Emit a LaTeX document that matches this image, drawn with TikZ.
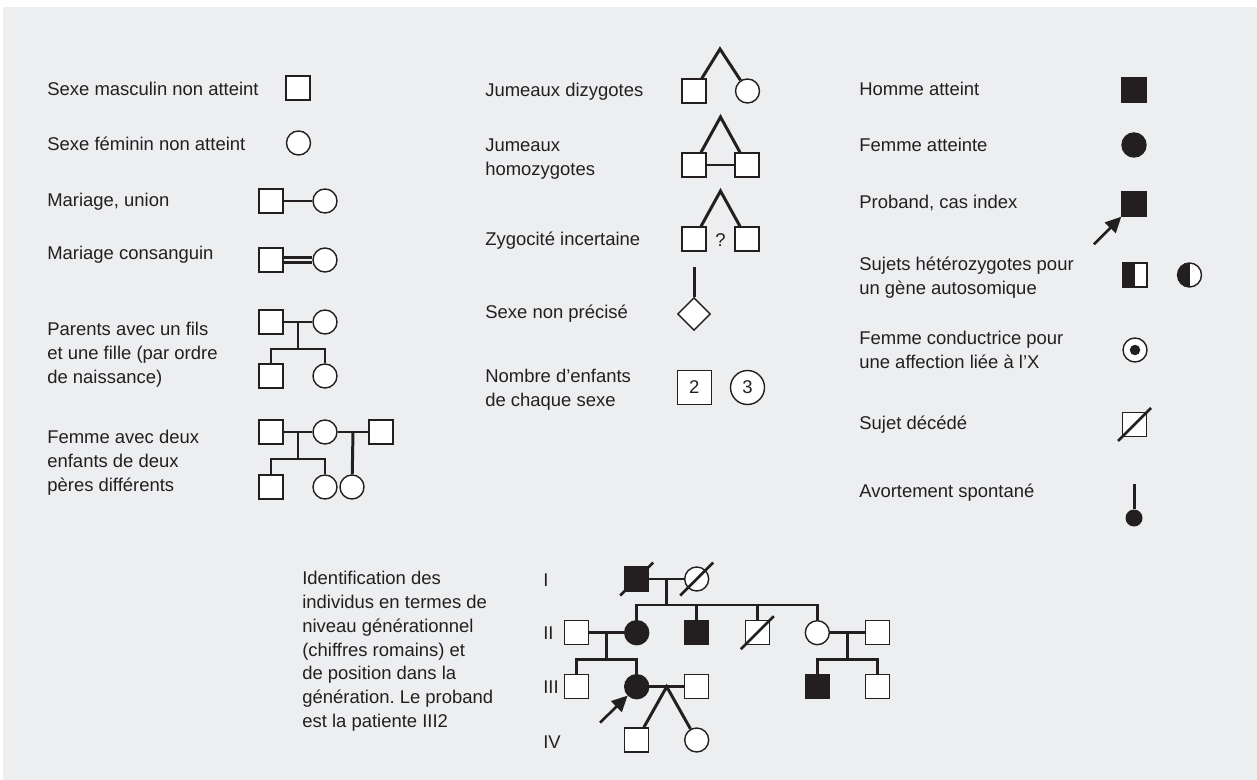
\documentclass[tikz,border=0pt]{standalone}
\usepackage{fontspec}
\setmainfont{Liberation Sans}
\usetikzlibrary{arrows.meta,shapes.geometric,calc,backgrounds}
\definecolor{ink}{HTML}{231F20}
\definecolor{panel}{HTML}{EDEEF0}
\frenchspacing

\begin{document}
\begin{tikzpicture}[x=0.02cm, y=-0.02cm]
	  \tikzstyle{lbl} = [anchor=north west, align=left, inner sep=0pt, text=ink, font=\fontsize{10.5}{13.6}\selectfont]
	  \tikzstyle{sq} = [rectangle, draw=ink, line width=0.8pt, fill=white, inner sep=0pt, minimum size=0.48cm, text=ink, font=\fontsize{10.5}{13.6}\selectfont]
	  \tikzstyle{ci} = [sq, circle]
	  \tikzstyle{hit} = [fill=ink]
	  \tikzstyle{half} = [path picture={\fill[ink] (path picture bounding box.north west) rectangle (path picture bounding box.south);}]
	  \tikzstyle{link} = [draw=ink, line width=1.7pt]
	  \tikzstyle{point} = [draw=ink, line width=1.5pt, -{Triangle[length=9pt,width=8.5pt]}]
	  \useasboundingbox (0,0) rectangle (1257,780);
	  \fill[panel] (3,7) rectangle (1257,780);
	  % left column
	  \node[lbl] (t1) at (47,81.6) {Sexe masculin non atteint};
	  \node[lbl] (t2) at (47,136.6) {Sexe féminin non atteint};
	  \node[lbl] (t3) at (47,192.6) {Mariage, union};
	  \node[lbl] (t4) at (47,245.6) {Mariage consanguin};
	  \node[lbl] (t5) at (47,321.6) {Parents avec un fils\\et une fille (par ordre\\de naissance)};
	  \node[lbl] (t6) at (47,429.6) {Femme avec deux\\enfants de deux\\pères différents};
	  \node[sq] (m1) at (298,88) {};
	  \node[ci] (f1) at (298.5,143) {};
	  \node[sq] (m2) at (271,201) {};
	  \node[ci] (f2) at (325,201) {};
	  \node[sq] (m3) at (271,260) {};
	  \node[ci] (f3) at (325,260) {};
	  \node[sq] (m4) at (271,322) {};
	  \node[ci] (f4) at (325,322) {};
	  \node[sq] (s4) at (271,376) {};
	  \node[ci] (d4) at (325,376) {};
	  \node[sq] (m5) at (271,432) {};
	  \node[ci] (f5) at (325,432) {};
	  \node[sq] (n5) at (381,432) {};
	  \node[sq] (s5) at (271,487) {};
	  \node[ci] (d5) at (325,487) {};
	  \node[ci] (e5) at (352,487) {};
	  \coordinate (c4) at ($(m4)!.5!(f4)$);
	  \coordinate (j4) at ($(c4)+(0,27)$);
	  \coordinate (c5) at ($(m5)!.5!(f5)$);
	  \coordinate (j5) at ($(c5)+(0,27)$);
	  \coordinate (k5) at ($(f5)!.5!(n5)$);
	  \draw[link] (m2) -- (f2);
	  \draw[draw=ink, line width=1.2pt, double=panel, double distance=1.6pt] (m3) -- (f3);
	  \draw[link] (m4) -- (f4);
	  \draw[link] (c4) -- (j4);
	  \draw[link] (s4) |- (j4) -| (d4);
	  \draw[link] (m5) -- (f5) -- (n5);
	  \draw[link] (c5) -- (j5);
	  \draw[link] (s5) |- (j5) -| (d5);
	  \draw[link] (k5) -- (e5);
	  % middle column
	  \node[lbl] (t7) at (485,82.6) {Jumeaux dizygotes};
	  \node[lbl] (t8) at (485,138.6) {Jumeaux\\homozygotes};
	  \node[lbl] (t9) at (485,231.6) {Zygocité incertaine};
	  \node[lbl] (t10) at (485,304.6) {Sexe non précisé};
	  \node[lbl] (t11) at (485,368.6) {Nombre d'enfants\\de chaque sexe};
	  \coordinate (a7) at (720,49);
	  \node[sq] (l7) at (694,91) {};
	  \node[ci] (r7) at (747.5,91) {};
	  \coordinate (a8) at (720.5,117);
	  \node[sq] (l8) at (694,165) {};
	  \node[sq] (r8) at (747,165) {};
	  \coordinate (a9) at (720.5,191);
	  \node[sq] (l9) at (694,239) {};
	  \node[sq] (r9) at (747,239) {};
	  \node[lbl, anchor=center] (q9) at (720.5,240) {?};
	  \coordinate (a10) at (694,267);
	  \node[diamond, draw=ink, line width=0.8pt, fill=white, inner sep=0pt, minimum width=0.66cm, minimum height=0.66cm] (u10) at (694,314) {};
	  \node[sq, minimum size=0.68cm] (m11) at (694.3,387.5) {2};
	  \node[ci, minimum size=0.68cm] (f11) at (747.5,387.5) {3};
	  \foreach \n in {7,8,9}
	    \draw[link] (l\n) -- (a\n) -- (r\n);
	  \draw[link] (l8) -- (r8);
	  \draw[link] (a10) -- (u10);
	  % right column
	  \node[lbl] (t12) at (859,81.6) {Homme atteint};
	  \node[lbl] (t13) at (859,137.6) {Femme atteinte};
	  \node[lbl] (t14) at (859,194.6) {Proband, cas index};
	  \node[lbl] (t15) at (859,256.6) {Sujets hétérozygotes pour\\un gène autosomique};
	  \node[lbl] (t16) at (859,330.6) {Femme conductrice pour\\une affection liée à l'X};
	  \node[lbl] (t17) at (859,415.6) {Sujet décédé};
	  \node[lbl] (t18) at (859,483.6) {Avortement spontané};
	  \node[sq, hit] (h12) at (1134,90) {};
	  \node[ci, hit] (h13) at (1134,145) {};
	  \node[sq, hit] (h14) at (1134,204) {};
	  \coordinate (a14) at (1094,244.3);
	  \node[sq, half] (h15) at (1135,275) {};
	  \node[ci, half] (k15) at (1189.5,275) {};
	  \node[ci] (h16) at (1135,350) {};
	  \node[circle, fill=ink, inner sep=0pt, minimum size=0.21cm] (o16) at (h16) {};
	  \node[sq] (h17) at (1134.5,424.5) {};
	  \coordinate (a18) at (1134,484);
	  \node[circle, fill=ink, inner sep=0pt, minimum size=0.34cm] (h18) at (1134,518) {};
	  \draw[point] (a14) -- (h14.south west);
	  \draw[link] (a18) -- (h18);
	  % pedigree
	  \node[lbl] (t19) at (302,570.6) {Identification des\\individus en termes de\\niveau générationnel\\(chiffres romains) et\\de position dans la\\génération. Le proband\\est la patiente III2};
	  \node[lbl, anchor=west] (g1) at (543,580) {I};
	  \node[lbl, anchor=west] (g2) at (543,633) {II};
	  \node[lbl, anchor=west] (g3) at (543,687) {III};
	  \node[lbl, anchor=west] (g4) at (543,742) {IV};
	  \node[sq, hit] (p1) at (636.7,579) {};
	  \node[ci] (p2) at (696.7,579) {};
	  \node[sq] (p3) at (576.3,632.7) {};
	  \node[ci, hit] (p4) at (636.7,632.7) {};
	  \node[sq, hit] (p5) at (696.7,632.7) {};
	  \node[sq] (p6) at (757.3,632.7) {};
	  \node[ci] (p7) at (817.3,632.7) {};
	  \node[sq] (p8) at (877.5,632.7) {};
	  \node[sq] (p9) at (576.3,686.7) {};
	  \node[ci, hit] (p10) at (636.7,686.7) {};
	  \node[sq] (p11) at (696.7,686.7) {};
	  \node[sq] (p12) at (636.7,740) {};
	  \node[ci] (p13) at (696.7,740) {};
	  \node[sq, hit] (p14) at (817.3,686.7) {};
	  \node[sq] (p15) at (877.5,686.7) {};
	  \coordinate (c1) at ($(p1)!.5!(p2)$);
	  \coordinate (j1) at ($(c1)+(0,26)$);
	  \coordinate (c2) at ($(p3)!.5!(p4)$);
	  \coordinate (j2) at ($(c2)+(0,26.6)$);
	  \coordinate (c3) at ($(p10)!.5!(p11)$);
	  \coordinate (c4) at ($(p7)!.5!(p8)$);
	  \coordinate (j4) at ($(c4)+(0,26.6)$);
	  \coordinate (a10) at (600,722.7);
	  \draw[link] (p1) -- (p2);
	  \draw[link] (c1) -- (j1);
	  \draw[link] (p4) |- (j1) -| (p7);
	  \foreach \k in {p5,p6}
	    \draw[link] (\k) -- (\k |- j1);
	  \draw[link] (p3) -- (p4);
	  \draw[link] (c2) -- (j2);
	  \draw[link] (p9) |- (j2) -| (p10);
	  \draw[link] (p10) -- (p11);
	  \draw[link] (p12) -- (c3) -- (p13);
	  \draw[link] (p7) -- (p8);
	  \draw[link] (c4) -- (j4);
	  \draw[link] (p14) |- (j4) -| (p15);
	  \draw[point] (a10) -- (p10);
	  \foreach \n in {h17,p1,p2,p6}
	    \draw[link, line width=1.5pt] ($(\n)+(-16.5,16.5)$) -- ($(\n)+(16.5,-16.5)$);
	\end{tikzpicture}
\end{document}
